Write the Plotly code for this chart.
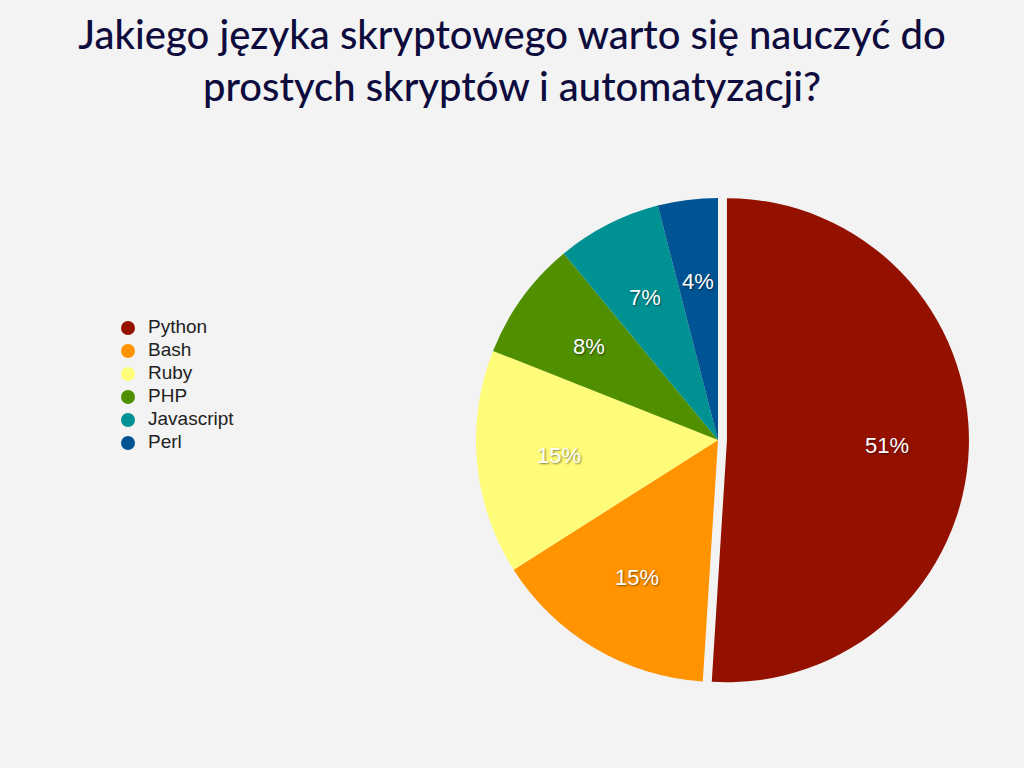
import math
import plotly.graph_objects as go

languages = ["Python", "Bash", "Ruby", "PHP", "Javascript", "Perl"]
shares = [51, 15, 15, 8, 7, 4]
colors = ["#941100", "#FF9300", "#FFFC79", "#4F8F00", "#009193", "#005493"]
pulls = [0.037, 0, 0, 0, 0, 0]

title_text = "Jakiego języka skryptowego warto się nauczyć do<br>prostych skryptów i automatyzacji?"

W, H = 1024, 768
# pie geometry (pixels)
PIE_CX, PIE_CY, PIE_R = 718, 440, 242
LABEL_FRAC = 0.66
half = PIE_R * (1 + max(pulls))
dom_x = [(PIE_CX - half) / W, (PIE_CX + half) / W]
dom_y = [1 - (PIE_CY + half) / H, 1 - (PIE_CY - half) / H]

fig = go.Figure()
fig.add_trace(go.Pie(
    labels=languages, values=shares, sort=False, direction="clockwise", rotation=0,
    pull=pulls, marker=dict(colors=colors, line=dict(width=0)),
    textinfo="none", domain=dict(x=dom_x, y=dom_y),
    showlegend=False, hoverinfo="label+percent",
))

# percentage labels placed along each slice's mid-angle
total = sum(shares)
cum = 0
annotations = []
for v, p in zip(shares, pulls):
    mid = (cum + v / 2) / total * 2 * math.pi  # clockwise from top
    cum += v
    cx = PIE_CX + p * PIE_R * math.sin(mid)
    cy = PIE_CY - p * PIE_R * math.cos(mid)
    lx = cx + LABEL_FRAC * PIE_R * math.sin(mid)
    ly = cy - LABEL_FRAC * PIE_R * math.cos(mid)
    annotations.append(dict(
        x=lx / W, y=1 - ly / H, xref="paper", yref="paper", showarrow=False,
        text=f"{round(v / total * 100)}%", xanchor="center", yanchor="middle",
        font=dict(family="Liberation Sans, Arial, sans-serif", size=22, color="white",
                  shadow="1px 1px 2px rgba(0,0,0,0.5)"),
    ))

# legend (circle markers with labels)
rows = list(range(len(languages)))
fig.add_trace(go.Scatter(
    x=[0] * len(languages), y=rows, mode="markers", cliponaxis=False,
    marker=dict(symbol="circle", size=14, color=colors, line=dict(width=0)),
    showlegend=False, hoverinfo="skip",
))
fig.add_trace(go.Scatter(
    x=[1] * len(languages), y=rows, mode="text", text=languages, cliponaxis=False,
    textposition="middle right",
    textfont=dict(family="Liberation Sans, Arial, sans-serif", size=19, color="#222222"),
    showlegend=False, hoverinfo="skip",
))

row_px = 23
first_row_px = 328
top_px = first_row_px - row_px / 2
bot_px = top_px + row_px * len(languages)

fig.update_layout(
    width=W, height=H, margin=dict(l=0, r=0, t=0, b=0),
    paper_bgcolor="#F3F3F3", plot_bgcolor="rgba(0,0,0,0)",
    xaxis=dict(visible=False, range=[0, 1], domain=[128 / W, 148 / W], fixedrange=True),
    yaxis=dict(visible=False, range=[len(languages) - 0.5, -0.5],
               domain=[1 - bot_px / H, 1 - top_px / H], fixedrange=True),
    title=dict(text=title_text, x=0.5, xanchor="center", y=0.936, yanchor="top",
               font=dict(family="Lato, sans-serif", size=40, color="#0E0B3D", weight=500)),
    annotations=annotations,
    showlegend=False,
)
fig.write_html("out.html")
